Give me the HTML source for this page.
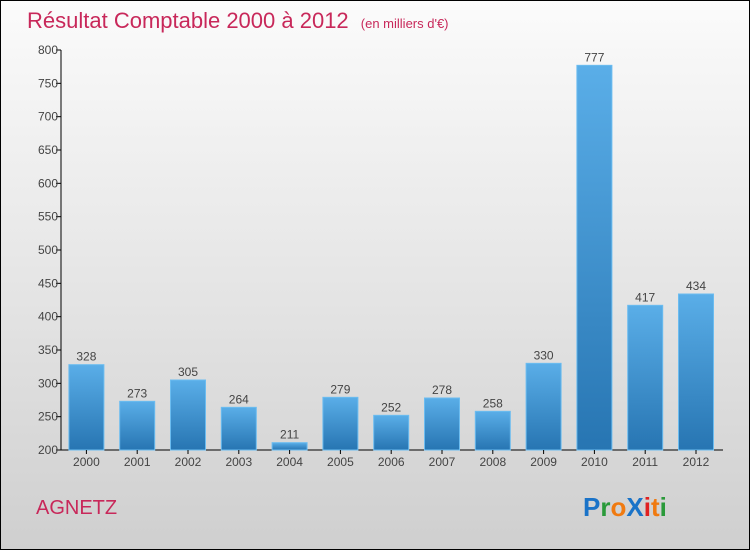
<!DOCTYPE html>
<html><head><meta charset="utf-8"><style>
body{margin:0}
#wrap{width:748px;height:548px;border:1px solid #000;background:linear-gradient(#fbfbfb,#e6e6e6 50%,#cfcfcf);position:relative;overflow:hidden;font-family:"Liberation Sans",sans-serif}
</style></head><body>
<div id="wrap">
<svg id="c" width="748" height="548">
<defs><linearGradient id="g" x1="0" y1="0" x2="0" y2="1"><stop offset="0" stop-color="#5aaee8"/><stop offset="1" stop-color="#2775b2"/></linearGradient></defs>
<text x="26" y="27" font-size="22" fill="#c8285a">Résultat Comptable 2000 à 2012 <tspan font-size="13" dx="6">(en milliers d'€)</tspan></text>
<text x="35" y="513" font-size="20" fill="#c8285a">AGNETZ</text>
<text x="582" y="515" font-size="26" font-weight="bold"><tspan fill="#1a73c8">P</tspan><tspan fill="#2a9a3a">r</tspan><tspan fill="#f07a10">o</tspan><tspan fill="#1a73c8">X</tspan><tspan fill="#e02020">i</tspan><tspan fill="#f07a10">t</tspan><tspan fill="#2a9a3a">i</tspan></text>
<g id="plot"></g>
</svg>
</div>
<script>
const categories=["2000","2001","2002","2003","2004","2005","2006","2007","2008","2009","2010","2011","2012"];
const values=[328,273,305,264,211,279,252,278,258,330,777,417,434];
const ticks=[200,250,300,350,400,450,500,550,600,650,700,750,800];
const ns="http://www.w3.org/2000/svg";
const g=document.getElementById('plot');
const X0=60,SLOT=50.8,Y0=449,YTOP=49;
const y=v=>Y0-(v-200)/600*(Y0-YTOP);
const x=i=>X0+SLOT*i+SLOT/2;
function mk(t,a){const e=document.createElementNS(ns,t);for(const k in a)e.setAttribute(k,a[k]);g.appendChild(e);return e;}
let e=mk('line',{x1:X0,y1:YTOP,x2:X0,y2:Y0,stroke:'#000'});


e=mk('line',{x1:X0,y1:Y0,x2:722,y2:Y0,stroke:'#000'});


ticks.forEach(t=>{
 const l=mk('line',{x1:X0-5,y1:y(t),x2:X0,y2:y(t),stroke:'#000'});
 
 
 const tx=mk('text',{x:X0-3,y:y(t)+4,'font-size':12,fill:'#444','text-anchor':'end'});
 tx.textContent=t;
 
 
});
categories.forEach((c,i)=>{
 const cx=x(i);
 const r=mk('rect',{x:cx-17.5,y:y(values[i]),width:35,height:Y0-y(values[i]),fill:'url(#g)',stroke:'#6bbcf0','stroke-width':1});
 
 
 const v=mk('text',{x:cx,y:y(values[i])-4,'font-size':12,fill:'#444','text-anchor':'middle'});
 v.textContent=values[i];
 
 
 const tk=mk('line',{x1:cx,y1:Y0,x2:cx,y2:Y0+4,stroke:'#000'});
 
 
 const t=mk('text',{x:cx,y:Y0+16,'font-size':12,fill:'#444','text-anchor':'middle'});
 t.textContent=c;
 
 
});
</script>
</body></html>
